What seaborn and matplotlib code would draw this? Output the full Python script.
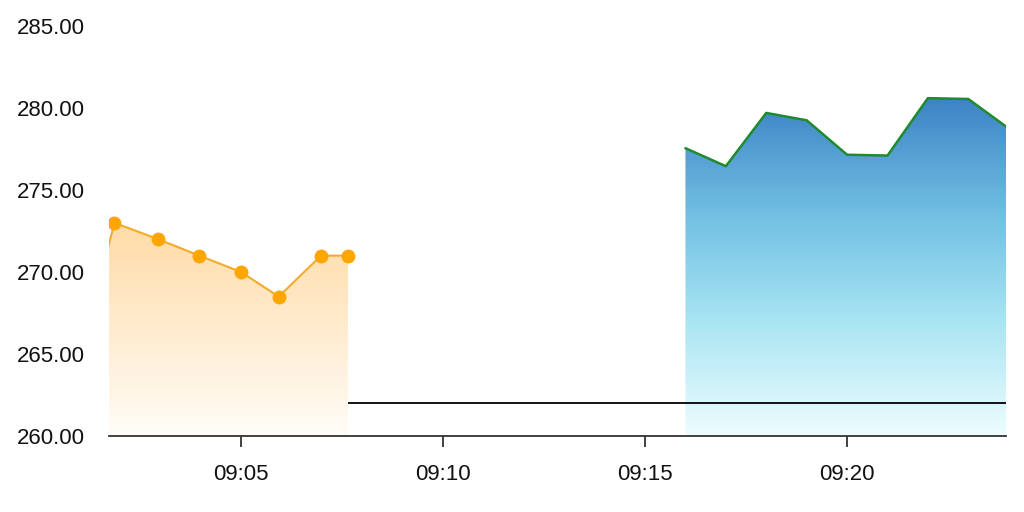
import numpy as np
import pandas as pd
import matplotlib
matplotlib.use("Agg")
import matplotlib.pyplot as plt
import matplotlib.dates as mdates
from matplotlib.colors import to_rgba
import seaborn as sns

# datos
dia = "2024-01-02 "
horas_naranja = ["09:01:00", "09:01:52", "09:02:57", "09:03:58", "09:05:00",
                 "09:05:56", "09:06:59", "09:07:39"]
valores_naranja = [264.6, 273.0, 272.0, 271.0, 270.0, 268.5, 271.0, 271.0]

horas_verde = ["09:16:00", "09:17:00", "09:18:00", "09:19:00", "09:20:00",
               "09:21:00", "09:22:00", "09:23:00", "09:24:00"]
valores_verde = [277.55, 276.45, 279.7, 279.25, 277.15, 277.1, 280.6, 280.55, 278.75]

linea_ref = 262.0
ref_inicio = "09:07:39"
ref_fin = "09:24:30"

ticks_x = ["09:05", "09:10", "09:15", "09:20"]
ticks_y = [260, 265, 270, 275, 280, 285]

df_n = pd.DataFrame({"t": pd.to_datetime([dia + h for h in horas_naranja]), "v": valores_naranja})
df_v = pd.DataFrame({"t": pd.to_datetime([dia + h for h in horas_verde]), "v": valores_verde})

sns.set_style("white")
plt.rcParams["font.family"] = ["Liberation Sans", "DejaVu Sans"]

fig = plt.figure(figsize=(10.24, 5.12), dpi=100)
ax = fig.add_axes([109 / 1024, 1 - 436 / 512, (1006 - 109) / 1024, (436 - 26) / 512])

y_min, y_max = 260, 285


def relleno_degradado(ax, x, y, colores, y_top):
    # poligono del area y degradado recortado
    poly = ax.fill_between(x, y, y_min, color="none", lw=0)
    n = 256
    pos = np.linspace(0, 1, n)
    stops = np.array([c[0] for c in colores])
    rgba = np.array([to_rgba(c[1]) for c in colores])
    grad = np.zeros((n, 1, 4))
    for k in range(4):
        grad[:, 0, k] = np.interp(pos, stops, rgba[:, k])
    xn = mdates.date2num(x)
    im = ax.imshow(grad, extent=[xn.min(), xn.max(), y_min, y_top],
                   origin="lower", aspect="auto", zorder=1, interpolation="bilinear")
    im.set_clip_path(poly.get_paths()[0], transform=ax.transData)


relleno_degradado(ax, df_n["t"], df_n["v"],
                  [(0, "#fffcf7"), (0.5, "#ffeccf"), (1, "#ffdba6")], 273.0)
relleno_degradado(ax, df_v["t"], df_v["v"],
                  [(0, "#eefdff"), (0.35, "#a6e4f2"), (0.65, "#72c0e3"), (1, "#3c83c5")], 280.6)

sns.lineplot(data=df_n, x="t", y="v", ax=ax, color="#f5ab2a", lw=1.5,
             marker="o", markersize=10, markeredgewidth=0,
             markerfacecolor="#ffa500", zorder=3)
sns.lineplot(data=df_v, x="t", y="v", ax=ax, color="#1f8a2e", lw=1.8, zorder=3)

ax.hlines(linea_ref, pd.Timestamp(dia + ref_inicio), pd.Timestamp(dia + ref_fin),
          color="black", lw=1.3, zorder=4)

ax.set_xlim(pd.Timestamp(dia + "09:01:44"), pd.Timestamp(dia + "09:23:56"))
ax.set_ylim(y_min, y_max)

ax.set_xticks([pd.Timestamp(dia + t) for t in ticks_x])
ax.set_xticklabels(ticks_x)
ax.set_yticks(ticks_y)
ax.set_yticklabels([f"{v:.2f}" for v in ticks_y])

ax.set_xlabel("")
ax.set_ylabel("")
for s in ["top", "right", "left"]:
    ax.spines[s].set_visible(False)
ax.spines["bottom"].set_color("#333333")
ax.spines["bottom"].set_linewidth(1.3)

ax.tick_params(axis="x", bottom=True, direction="out", length=8, width=1.3,
               color="#333333", labelsize=16, pad=12, labelcolor="#111111")
ax.tick_params(axis="y", left=False, length=0, labelsize=16, pad=66, labelcolor="#111111")
for lab in ax.get_yticklabels():
    lab.set_horizontalalignment("left")

fig.savefig("out.png", dpi=100)
